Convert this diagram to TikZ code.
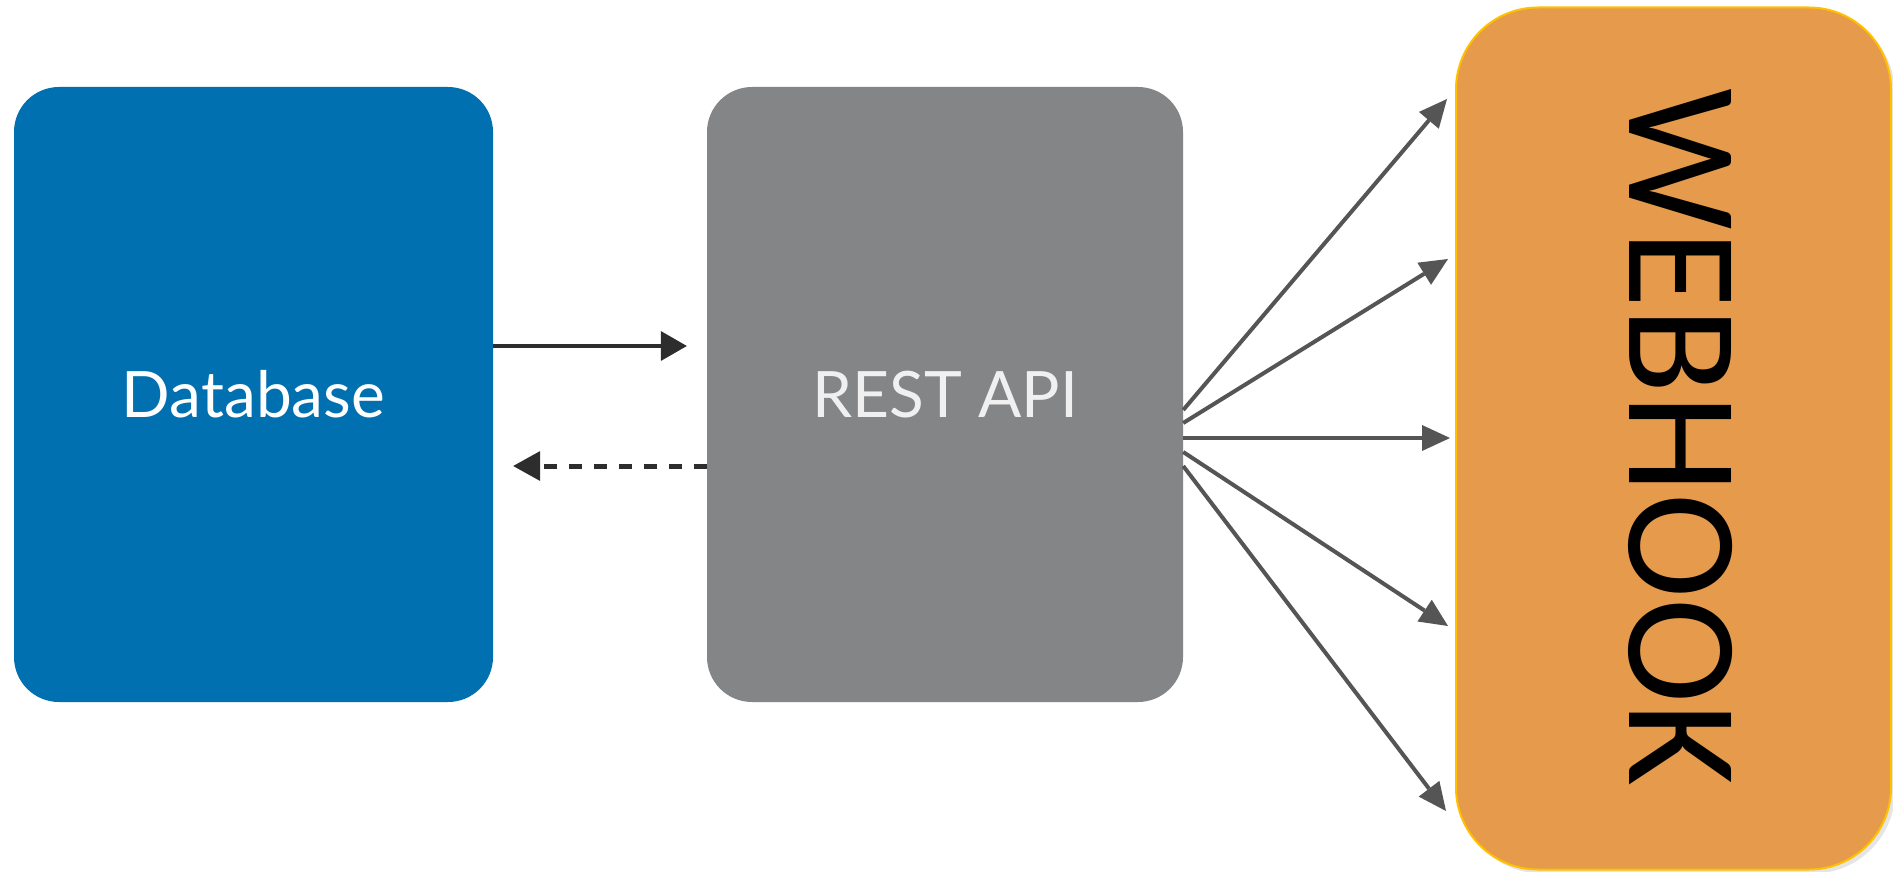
\documentclass[tikz,border=0pt]{standalone}
\usepackage{fontspec}
\newfontfamily\labelfont{Lato}
\newfontfamily\hookfont{Carlito}
\usetikzlibrary{arrows.meta,shadows,calc}
\definecolor{dbblue}{RGB}{0,112,176}
\definecolor{apigray}{RGB}{132,133,135}
\definecolor{apitext}{RGB}{240,240,240}
\definecolor{hookorange}{RGB}{229,154,76}
\definecolor{hookgold}{RGB}{255,192,0}
\definecolor{arrowdark}{RGB}{45,45,45}
\definecolor{fangray}{RGB}{85,85,85}
\begin{document}
\begin{tikzpicture}[x=1pt,y=1pt,
  box/.style={rounded corners=45pt, minimum width=479pt, minimum height=615pt,
    inner sep=0pt, text=white, font=\labelfont\fontsize{64}{64}\selectfont},
  flow/.style={line width=4pt, draw=arrowdark,
    -{Triangle[length=26pt,width=30pt,line width=0pt]}},
  backflow/.style={line width=5pt, draw=arrowdark, dash pattern=on 13pt off 12pt,
    -{Triangle[length=27pt,width=30pt,line width=0pt]}},
  fan/.style={line width=4pt, draw=fangray,
    -{Triangle[length=28pt,width=26pt,line width=0pt]}},
  hookbox/.style={draw=hookgold, line width=2pt, fill=hookorange, rounded corners=82pt,
    minimum width=435pt, minimum height=862pt, inner sep=0pt,
    drop shadow={shadow xshift=4pt, shadow yshift=-4pt, opacity=0.2}},
  hooklabel/.style={rotate=-90, text=black, inner sep=0pt,
    font=\hookfont\fontsize{159}{159}\selectfont}]
\fill[white] (0,0) rectangle (1893,-872);
\useasboundingbox (0,0) rectangle (1893,-872);

\node[box, fill=dbblue] (db) at (253.5,-394.5) {Database};
\node[box, fill=apigray, minimum width=476pt, text=apitext] (api) at (945,-394.5) {REST API};
\node[hookbox] (hook) at (1673.5,-438.5) {};
\node[hooklabel] (hooktext) at (1680.5,-437.5) {WEBHOOK};

% database <-> REST API
\draw[flow, shorten >=20pt] ($(db.east)+(0,48.5)$) -- ($(api.west)+(0,48.5)$);
\draw[backflow, shorten >=20pt] ($(api.west)+(0,-71.5)$) -- ($(db.east)+(0,-71.5)$);

% fan to webhook
\coordinate (t1) at (1447,-99);
\coordinate (t2) at (1448,-259);
\coordinate (t3) at (1450,-438);
\coordinate (t4) at (1448,-626);
\coordinate (t5) at (1446,-811);
\draw[fan] ($(api.east)+(0,-15.5)$) -- (t1);
\draw[fan] ($(api.east)+(0,-28.5)$) -- (t2);
\draw[fan] ($(api.east)+(0,-43.5)$) -- (t3);
\draw[fan] ($(api.east)+(0,-57.5)$) -- (t4);
\draw[fan] ($(api.east)+(0,-71.5)$) -- (t5);
\end{tikzpicture}
\end{document}
